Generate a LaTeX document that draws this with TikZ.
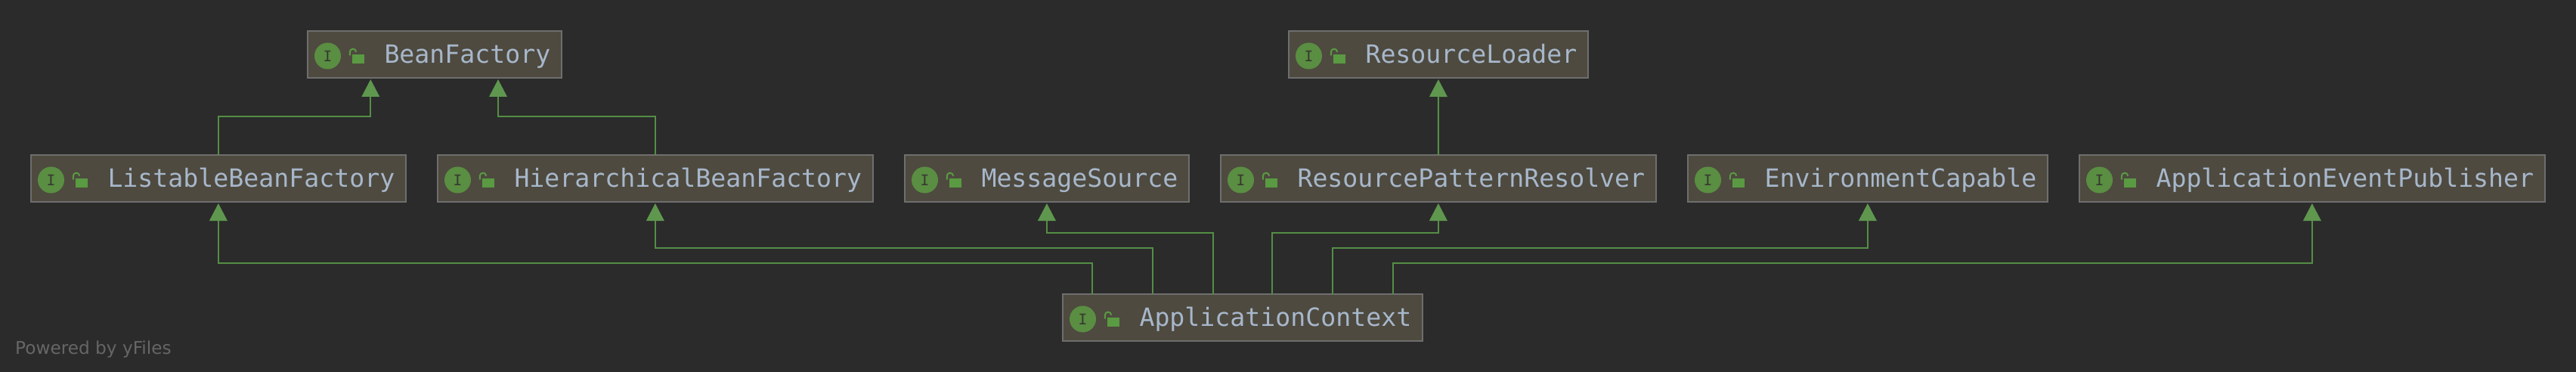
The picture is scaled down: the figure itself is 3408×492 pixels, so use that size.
\documentclass[tikz,border=0pt]{standalone}
\usepackage{fontspec}
\setmainfont{DejaVu Sans}
\setmonofont{DejaVu Sans Mono}
\usetikzlibrary{arrows.meta}

\definecolor{bgcol}{HTML}{2B2B2B}
\definecolor{boxfill}{HTML}{4E4A3F}
\definecolor{boxline}{HTML}{6E6E6E}
\definecolor{namecol}{HTML}{A7B7CB}
\definecolor{linkcol}{HTML}{558E45}
\definecolor{tipcol}{HTML}{5F974F}
\definecolor{iconcol}{HTML}{5A8E42}
\definecolor{lockcol}{HTML}{5A9A42}
\definecolor{glyphcol}{HTML}{37392F}
\definecolor{creditcol}{HTML}{666666}

\tikzset{
  iface/.style={draw=boxline,fill=boxfill,line width=2pt,text=namecol,anchor=north west,
    inner xsep=14.5pt,inner ysep=0pt,outer sep=0pt,text height=42.7pt,text depth=19.3pt,
    font=\ttfamily\fontsize{33.2}{40}\selectfont},
  extends/.style={draw=linkcol,line width=2pt,shorten >=2pt,
    -{Triangle[length=23pt,width=23.5pt,color=tipcol]}},
}
\newcommand{\ifacename}[1]{\hspace*{87pt}#1}

\begin{document}
\begin{tikzpicture}[x=1pt,y=-1pt]
\useasboundingbox (0,0) rectangle (3408,492);
\fill[bgcol] (0,0) rectangle (3408,492);

% Top row
\node[iface] (beanfactory) at (407,41) {\ifacename{BeanFactory}};
\node[iface] (resourceloader) at (1705,41) {\ifacename{ResourceLoader}};

% Middle row
\node[iface] (listable) at (41,205) {\ifacename{ListableBeanFactory}};
\node[iface] (hierarchical) at (579,205) {\ifacename{HierarchicalBeanFactory}};
\node[iface] (messagesource) at (1197,205) {\ifacename{MessageSource}};
\node[iface] (patternresolver) at (1615,205) {\ifacename{ResourcePatternResolver}};
\node[iface] (environment) at (2233,205) {\ifacename{EnvironmentCapable}};
\node[iface] (publisher) at (2751,205) {\ifacename{ApplicationEventPublisher}};

% Bottom
\node[iface] (context) at (1406,389) {\ifacename{ApplicationContext}};

% Icons
\foreach \n in {beanfactory,resourceloader,listable,hierarchical,messagesource,patternresolver,environment,publisher,context}{
  \fill[iconcol] ([xshift=26.5pt,yshift=-2pt]\n.west) circle (17.5pt);
  \node[text=glyphcol,inner sep=0pt,font=\ttfamily\fontsize{19.5}{20}\selectfont] (\n-i) at ([xshift=26.5pt,yshift=-2pt]\n.west) {I};
  \fill[lockcol] ([xshift=59.3pt]\n.west) rectangle ([xshift=74.5pt,yshift=-11.7pt]\n.west);
  \draw[lockcol,line width=2pt] ([xshift=55.8pt,yshift=-1.5pt]\n.west) -- ([xshift=55.8pt,yshift=3.2pt]\n.west) arc[start angle=180,end angle=0,radius=4.2pt];
}

% Inheritance
\draw[extends] (listable.north) -- ++(0,-50.7) -| ([xshift=83.3pt]beanfactory.south west);
\draw[extends] (hierarchical.north) -- ++(0,-50.7) -| ([xshift=252pt]beanfactory.south west);
\draw[extends] (patternresolver.north) -- (resourceloader.south);
\draw[extends] ([xshift=-199.3pt]context.north) -- ++(0,-40.7) -| (listable.south);
\draw[extends] ([xshift=-119.3pt]context.north) -- ++(0,-60.7) -| (hierarchical.south);
\draw[extends] ([xshift=-39.3pt]context.north) -- ++(0,-80.7) -| (messagesource.south);
\draw[extends] ([xshift=39.3pt]context.north) -- ++(0,-80.7) -| (patternresolver.south);
\draw[extends] ([xshift=119.3pt]context.north) -- ++(0,-60.7) -| (environment.south);
\draw[extends] ([xshift=199.3pt]context.north) -- ++(0,-40.7) -| (publisher.south);

% Credit
\node[text=creditcol,anchor=base west,inner sep=0pt,font=\fontsize{23.2}{28}\selectfont] (credit) at (20,468.3) {Powered by yFiles};
\end{tikzpicture}
\end{document}
